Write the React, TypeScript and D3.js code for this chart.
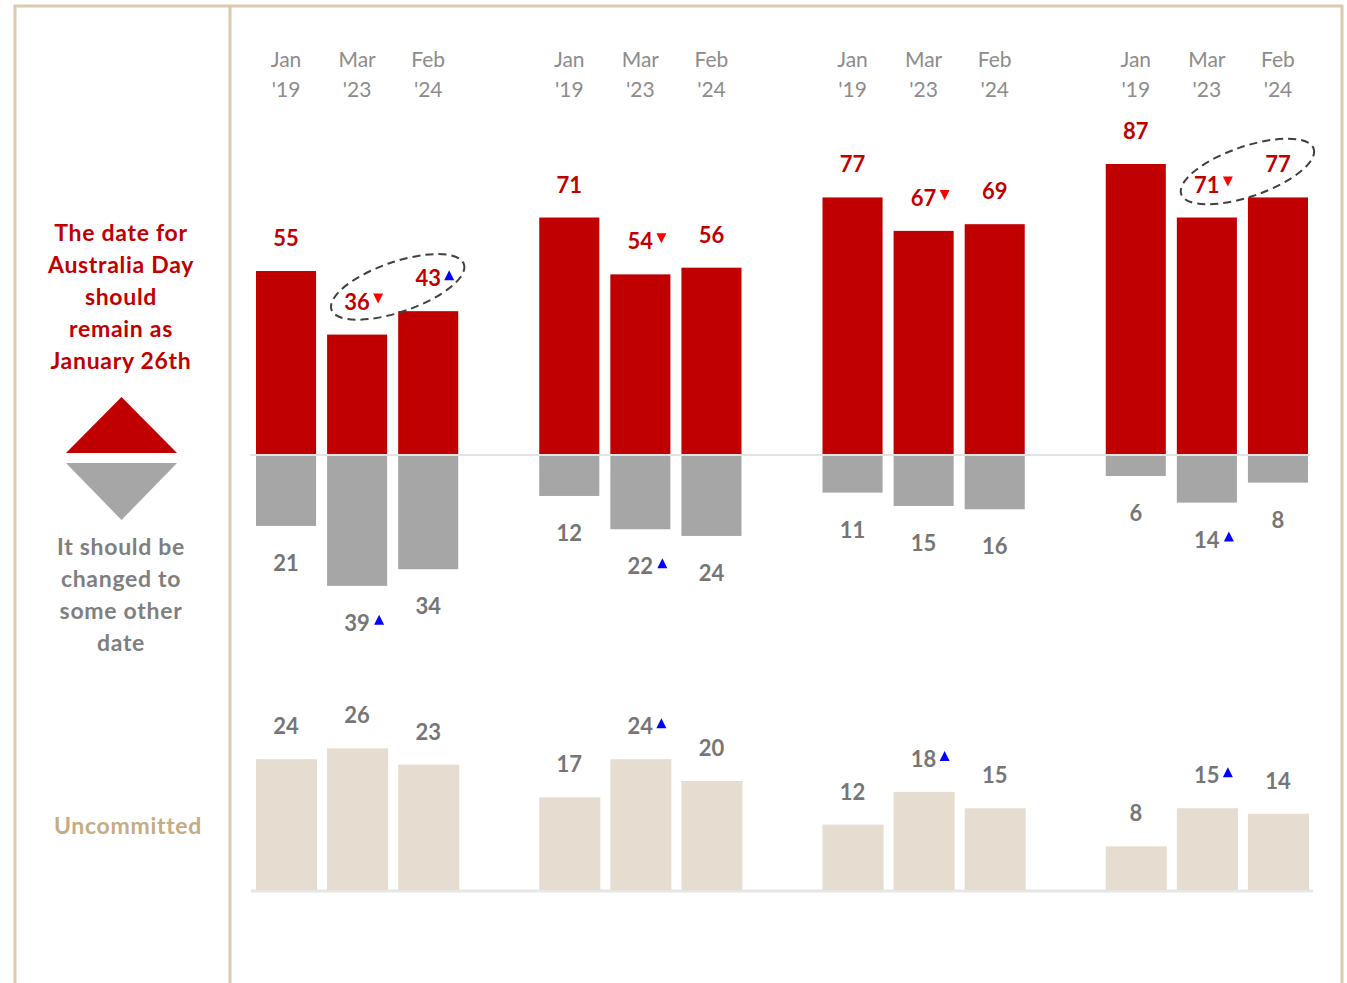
import React from "react";
import * as d3 from "d3";

// survey waves (header labels, two lines each)
const waveMonths = ["Jan", "Mar", "Feb"];
const waveYears = ["'19", "'23", "'24"];
const groups = ["g1", "g2", "g3", "g4"];

// "The date for Australia Day should remain as January 26th"
const remain = [
    [55, 36, 43],
    [71, 54, 56],
    [77, 67, 69],
    [87, 71, 77],
];
// "It should be changed to some other date"
const change = [
    [21, 39, 34],
    [12, 22, 24],
    [11, 15, 16],
    [6, 14, 8],
];
const uncommitted = [
    [24, 26, 23],
    [17, 24, 20],
    [12, 18, 15],
    [8, 15, 14],
];

// movement markers: "up" / "down" / ""
const remainMarks = [
    ["", "down", "up"],
    ["", "down", ""],
    ["", "down", ""],
    ["", "down", ""],
];
const changeMarks = [
    ["", "up", ""],
    ["", "up", ""],
    ["", "", ""],
    ["", "up", ""],
];
const uncommittedMarks = [
    ["", "", ""],
    ["", "up", ""],
    ["", "up", ""],
    ["", "up", ""],
];

// groups with a dashed ring around the Mar '23 / Feb '24 labels
const ringedGroups = [0, 3];

const leftTop = ["The date for", "Australia Day", "should", "remain as", "January 26th"];
const leftBottom = ["It should be", "changed to", "some other", "date"];

const RED = "#C00000";
const GREY = "#A6A6A6";
const TAN = "#E6DDD0";
const BORDER = "#DACBAE";
const FONT = "Lato, 'Open Sans', sans-serif";

export default function App() {
    const width = 1347;
    const height = 983;

    const xGroup = d3.scaleBand<string>().domain(groups).range([256, 1308]).paddingInner(0.286);
    const xWave = d3
        .scaleBand<number>()
        .domain([0, 1, 2])
        .range([0, xGroup.bandwidth()])
        .paddingInner(0.155);
    const bw = xWave.bandwidth();
    const cx = (g: number, i: number) => (xGroup(groups[g]) as number) + (xWave(i) as number) + bw / 2;
    const bx = (g: number, i: number) => (xGroup(groups[g]) as number) + (xWave(i) as number);

    const base = 455;
    const yUp = d3.scaleLinear().domain([0, 100]).range([base, base - 334.5]);
    const yDown = d3.scaleLinear().domain([0, 100]).range([base + 1, base + 1 + 333]);
    const uBase = 890;
    const yU = d3.scaleLinear().domain([0, 100]).range([uBase, uBase - 545]);

    const marker = (kind: string, x: number, y: number, key: string) => {
        if (!kind) return null;
        const w = 5;
        const h = 10;
        const pts =
            kind === "up"
                ? [[x - w, y + h / 2], [x + w, y + h / 2], [x, y - h / 2]]
                : [[x - w, y - h / 2], [x + w, y - h / 2], [x, y + h / 2]];
        return (
            <polygon
                key={key}
                points={pts.map((p) => p.join(",")).join(" ")}
                fill={kind === "up" ? "#0000FF" : "#FF0000"}
            />
        );
    };

    const numStyle = { fontFamily: FONT, fontWeight: 700, fontSize: 22 } as const;
    const capStyle = { fontFamily: FONT, fontWeight: 700, fontSize: 23, letterSpacing: 0.7 } as const;

    return (
        <svg
            width={width}
            height={height}
            style={{ position: "absolute", left: 0, top: 0, background: "#fff" }}
        >
            {/* frame */}
            <path
                d={`M15,${height + 5} V6 H1342 V${height + 5}`}
                fill="none"
                stroke={BORDER}
                strokeWidth={3}
            />
            <line x1={230} x2={230} y1={6} y2={height + 5} stroke={BORDER} strokeWidth={3} />

            {/* left captions */}
            {leftTop.map((t, i) => (
                <text key={t} x={121} y={241 + i * 32} textAnchor="middle" fill={RED} {...capStyle}>
                    {t}
                </text>
            ))}
            <polygon points="66,453 177,453 121.5,397" fill={RED} />
            <polygon points="66,463 177,463 121.5,520" fill={GREY} />
            {leftBottom.map((t, i) => (
                <text key={t} x={121} y={555 + i * 32} textAnchor="middle" fill="#7F7F7F" {...capStyle}>
                    {t}
                </text>
            ))}
            <text x={128} y={834} textAnchor="middle" fill="#C4AC84" {...capStyle}>
                Uncommitted
            </text>

            {/* header wave labels */}
            {groups.map((_, g) =>
                waveMonths.map((m, i) => (
                    <g key={`h${g}${i}`} fill="#8C8C8C" fontFamily={FONT} fontSize={21}>
                        <text x={cx(g, i)} y={67} textAnchor="middle">
                            {m}
                        </text>
                        <text x={cx(g, i)} y={97} textAnchor="middle">
                            {waveYears[i]}
                        </text>
                    </g>
                )),
            )}

            {/* baselines */}
            <line x1={250} x2={1310} y1={base} y2={base} stroke="#E3E3E3" strokeWidth={2} />
            <line x1={251} x2={1313} y1={uBase + 1} y2={uBase + 1} stroke="#E6E6E6" strokeWidth={3} />

            {/* remain bars */}
            {remain.map((row, g) =>
                row.map((v, i) => (
                    <g key={`r${g}${i}`}>
                        <rect x={bx(g, i)} y={yUp(v)} width={bw} height={base - 1 - yUp(v)} fill={RED} />
                        <text x={cx(g, i)} y={yUp(v) - 25} textAnchor="middle" fill={RED} {...numStyle}>
                            {v}
                        </text>
                        {marker(remainMarks[g][i], cx(g, i) + 21, yUp(v) - 36, `rm${g}${i}`)}
                    </g>
                )),
            )}

            {/* change bars */}
            {change.map((row, g) =>
                row.map((v, i) => (
                    <g key={`c${g}${i}`}>
                        <rect x={bx(g, i)} y={base + 1} width={bw} height={yDown(v) - base - 1} fill={GREY} />
                        <text x={cx(g, i)} y={yDown(v) + 45} textAnchor="middle" fill="#767676" {...numStyle}>
                            {v}
                        </text>
                        {marker(changeMarks[g][i], cx(g, i) + 22, yDown(v) + 34, `cm${g}${i}`)}
                    </g>
                )),
            )}

            {/* uncommitted bars */}
            {uncommitted.map((row, g) =>
                row.map((v, i) => (
                    <g key={`u${g}${i}`}>
                        <rect x={bx(g, i)} y={yU(v)} width={bw + 1} height={uBase - yU(v)} fill={TAN} />
                        <text x={cx(g, i)} y={yU(v) - 25} textAnchor="middle" fill="#767676" {...numStyle}>
                            {v}
                        </text>
                        {marker(uncommittedMarks[g][i], cx(g, i) + 21, yU(v) - 36, `um${g}${i}`)}
                    </g>
                )),
            )}

            {/* dashed rings */}
            {ringedGroups.map((g) => {
                const x1 = cx(g, 1);
                const y1 = yUp(remain[g][1]) - 33;
                const x2 = cx(g, 2);
                const y2 = yUp(remain[g][2]) - 33;
                const mx = (x1 + x2) / 2 + 5;
                const my = (y1 + y2) / 2 - 3;
                return (
                    <ellipse
                        key={`ring${g}`}
                        cx={mx}
                        cy={my}
                        rx={70}
                        ry={25}
                        transform={`rotate(-19 ${mx} ${my})`}
                        fill="none"
                        stroke="#404040"
                        strokeWidth={2}
                        strokeDasharray="8 5"
                    />
                );
            })}
        </svg>
    );
}
